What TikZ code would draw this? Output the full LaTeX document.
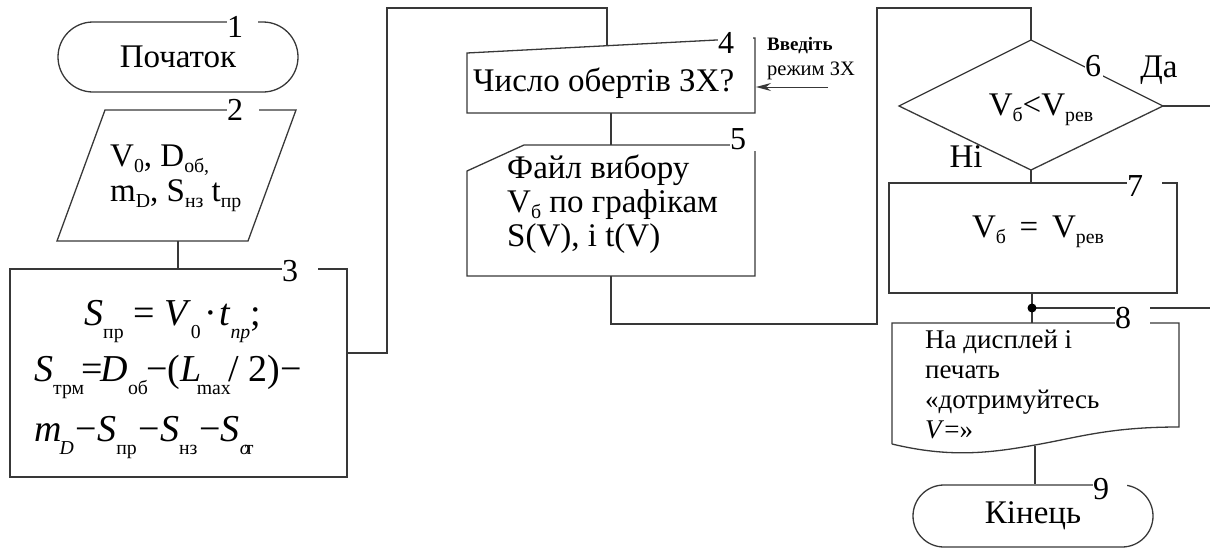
\documentclass[tikz,border=0pt]{standalone}
\usepackage{fontspec}
\usepackage{graphicx}
\setmainfont{Liberation Serif}
\usetikzlibrary{shapes.misc,shapes.geometric,arrows.meta}
\newcommand\lo[2][0.6]{\raisebox{-0.4ex}{\scalebox{#1}{#2}}}
\newcommand\flo[2][0.52]{\raisebox{-0.75ex}{\scalebox{#1}{#2}}}
\tikzset{
  ln/.style={line width=1.3pt, draw=black!78},
  numbox/.style={fill=white, inner sep=0pt, font=\fontsize{32}{32}\selectfont, anchor=west, minimum height=24pt, align=left},
  txt/.style={font=\fontsize{33}{36}\selectfont, inner sep=0pt},
  stxt/.style={font=\fontsize{27}{30}\selectfont, inner sep=0pt, anchor=base west},
  ftxt/.style={font=\fontsize{38}{40}\selectfont, inner sep=0pt, anchor=base west},
  term/.style={ln, rounded rectangle, inner sep=0pt, minimum width=240pt},
  box/.style={ln, rectangle, inner sep=0pt},
}
\begin{document}
\begin{tikzpicture}[x=1pt,y=-1pt]
\useasboundingbox (0,0) rectangle (1210,549);

% ---- node 1
\node[term, minimum height=70pt, txt] (n1) at (178,57) {Початок};

% ---- node 2 (data)
\coordinate (n2tl) at (105,110); \coordinate (n2tr) at (296,110);
\coordinate (n2br) at (248,241); \coordinate (n2bl) at (57,241);
\draw[ln] (n2tl) -- (n2tr) -- (n2br) -- (n2bl) -- cycle;
\coordinate (n2b) at (178,241);
\node[txt, anchor=base west] (t2a) at (110,166) {V\lo{0}, D\lo{об,}};
\node[txt, anchor=base west] (t2b) at (110,201) {m\lo{D}, S\lo{нз} t\lo{пр}};

% ---- node 3 (process)
\node[box, minimum width=337pt, minimum height=208pt] (n3) at (178.5,373) {};
\node[ftxt] (f1) at (84,325) {\textit{S}\flo{пр} = \textit{V}\flo{0}\kern0.1em·\kern0.05em\textit{t}\flo{\textit{пр}};};
\node[ftxt] (f2) at (34,381) {\textit{S}\flo{трм}\kern-0.08em=\kern-0.05em\textit{D}\flo{об}\kern-0.05em−(\textit{L}\kern-0.12em\flo{max}\kern-0.05em/ 2)−};
\node[ftxt] (f3) at (34,441) {\textit{m}\kern-0.05em\flo{\textit{D}}\kern0.05em−\textit{S}\flo{пр}\kern0.05em−\textit{S}\flo{нз}\kern0.05em−\textit{S}\flo{\textit{о}\kern-0.25em т}};

% ---- node 4 (manual input)
\coordinate (n4tl) at (467,53); \coordinate (n4tr) at (755,38);
\coordinate (n4br) at (755,113); \coordinate (n4bl) at (467,113);
\draw[ln] (n4tl) -- (n4tr) -- (n4br) -- (n4bl) -- cycle;
\coordinate (n4t) at (607,46);
\coordinate (n4b) at (611,113);
\coordinate (n4r) at (756,87);
\node[txt, anchor=base west] (t4) at (473,91) {Число обертів ЗХ?};

% annotation
\node[font=\fontsize{19}{20}\selectfont\bfseries, inner sep=0pt, anchor=west] (a1) at (767,46) {Введіть};
\node[font=\fontsize{20.5}{21}\selectfont, inner sep=0pt, anchor=west] (a2) at (767,71) {режим ЗХ};
\coordinate (a3) at (828,87);
\draw[ln, line width=1pt, -{Stealth[length=15pt,width=8pt,inset=5pt]}] (a3) -- (n4r);

% ---- node 5 (card)
\coordinate (n5a) at (524,145); \coordinate (n5b) at (755,145);
\coordinate (n5c) at (755,276); \coordinate (n5d) at (467,276);
\coordinate (n5e) at (467,171);
\draw[ln] (n5a) -- (n5b) -- (n5c) -- (n5d) -- (n5e) -- cycle;
\coordinate (n5t) at (611,145);
\coordinate (n5bot) at (611,276);
\node[txt, anchor=base west] (t5a) at (507,178) {Файл вибору};
\node[txt, anchor=base west] (t5b) at (507,212) {V\lo{б} по графікам};
\node[txt, anchor=base west] (t5c) at (507,246) {S(V), і t(V)};

% ---- node 6 (decision)
\coordinate (n6t) at (1031,40); \coordinate (n6r) at (1163,106);
\coordinate (n6b) at (1031,170); \coordinate (n6l) at (899,106);
\draw[ln] (n6t) -- (n6r) -- (n6b) -- (n6l) -- cycle;
\node[txt] (t6) at (1041,110) {V\lo{б}<V\lo{рев}};
\node[txt] (yes) at (1159,70) {Да};
\node[txt] (no) at (966,157) {Ні};

% ---- node 7 (process)
\node[box, minimum width=288pt, minimum height=110pt] (n7) at (1033,238) {};
\node[txt] (t7) at (1038,232) {V\lo{б} \,=\, V\lo{рев}};

% ---- node 8 (document)
\coordinate (n8tl) at (892,323); \coordinate (n8tr) at (1179,323);
\coordinate (n8br) at (1179,427); \coordinate (n8bl) at (892,444);
\draw[ln] (n8bl) -- (n8tl) -- (n8tr) -- (n8br)
  .. controls (1110,427) and (1080,437) .. (1035,445)
  .. controls (990,453) and (950,458) .. (n8bl);
\coordinate (n8t) at (1032,323);
\coordinate (n8b) at (1035,446);
\node[stxt] (t8a) at (925,348) {На дисплей і};
\node[stxt] (t8b) at (925,378) {печать};
\node[stxt] (t8c) at (925,408) {«дотримуйтесь};
\node[stxt] (t8d) at (925,438) {\textit{V}=»};

% ---- node 9
\node[term, minimum height=62pt, txt] (n9) at (1033,516) {Кінець};

% ---- connectors
\coordinate (j1) at (387,353);
\coordinate (j2) at (387,8);
\coordinate (j3) at (607,8);
\draw[ln] (n2b) -- (n3.north -| n2b);
\draw[ln] (n3.east |- j1) -- (j1) -- (j2) -- (j3) -- (n4t);
\draw[ln] (n4b) -- (n5t);
\coordinate (k1) at (611,324);
\coordinate (k2) at (877,324);
\coordinate (k3) at (877,8);
\coordinate (k4) at (1031,8);
\draw[ln] (n5bot) -- (k1) -- (k2) -- (k3) -- (k4) -- (n6t);
\draw[ln] (n6b) -- (n7.north -| n6b);
\coordinate (edge1) at (1210,106);
\draw[ln] (n6r) -- (edge1);
\coordinate (dot) at (1032,308);
\coordinate (edge2) at (1210,308);
\draw[ln] (n7.south -| dot) -- (n8t);
\draw[ln] (dot) -- (edge2);
\fill[black] (dot) circle (4.5pt);
\draw[ln] (n8b) -- (n9.north -| n8b);

% ---- numbers
\node[numbox, text width=31pt] (c1) at (227,27) {1};
\node[numbox, text width=32pt] (c2) at (227,110) {2};
\node[numbox, text width=36pt] (c3) at (282,271) {3};
\node[numbox, text width=35pt] (c4) at (718,43) {4};
\node[numbox, text width=27pt] (c5) at (730,139) {5};
\node[numbox, text width=18pt, minimum height=20pt] (c6) at (1085,66) {6};
\node[numbox, text width=35pt] (c7) at (1127,186) {7};
\node[numbox, text width=35pt, minimum height=32pt] (c8) at (1115,318) {8};
\node[numbox, text width=34pt] (c9) at (1093,489) {9};
\end{tikzpicture}
\end{document}
